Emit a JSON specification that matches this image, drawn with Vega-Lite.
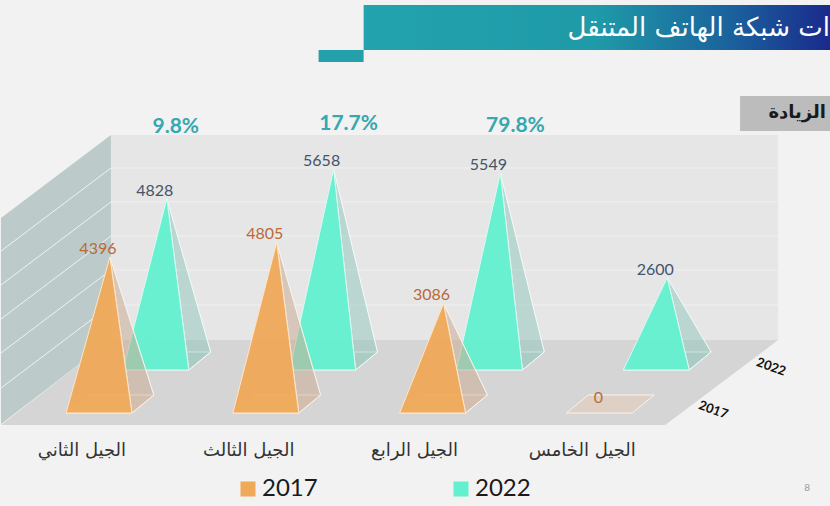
{
"$schema":"https://vega.github.io/schema/vega-lite/v6.json",
"width":830,"height":506,"padding":0,"autosize":{"type":"fit","contains":"padding"},
"background":"#f2f2f2",
"config":{"view":{"stroke":null},"text":{"font":"Lato"}},
"datasets":{
"walls":[
{"w":"back","o":1,"x":0.006,"y":7831},{"w":"back","o":2,"x":4.006,"y":7831},{"w":"back","o":3,"x":4.006,"y":2056},{"w":"back","o":4,"x":0.006,"y":2056},
{"w":"left","o":1,"x":-0.653,"y":5493},{"w":"left","o":2,"x":0.006,"y":7831},{"w":"left","o":3,"x":0.006,"y":2056},{"w":"left","o":4,"x":-0.653,"y":-310},
{"w":"floor","o":1,"x":0.006,"y":2056},{"w":"floor","o":2,"x":4.006,"y":2056},{"w":"floor","o":3,"x":3.329,"y":-338},{"w":"floor","o":4,"x":-0.653,"y":-338}
],
"grid":[
{"x":0.006,"y":6901,"x2":4.006,"y2":6901},{"x":0.006,"y":5944,"x2":4.006,"y2":5944},{"x":0.006,"y":4986,"x2":4.006,"y2":4986},{"x":0.006,"y":4028,"x2":4.006,"y2":4028},{"x":0.006,"y":3042,"x2":4.006,"y2":3042},
{"x":-0.653,"y":4563,"x2":0.006,"y2":6901},{"x":-0.653,"y":3606,"x2":0.006,"y2":5944},{"x":-0.653,"y":2648,"x2":0.006,"y2":4986},{"x":-0.653,"y":1690,"x2":0.006,"y2":4028},{"x":-0.653,"y":704,"x2":0.006,"y2":3042}
],
"py":[
{"yr":"2022","p":1,"f":"base","o":1,"x":0.078,"y":0},{"yr":"2022","p":1,"f":"base","o":2,"x":0.473,"y":0},{"yr":"2022","p":1,"f":"base","o":3,"x":0.604,"y":507},{"yr":"2022","p":1,"f":"base","o":4,"x":0.209,"y":507},
{"yr":"2022","p":1,"f":"back","o":1,"x":0.209,"y":507},{"yr":"2022","p":1,"f":"back","o":2,"x":0.604,"y":507},{"yr":"2022","p":1,"f":"back","o":3,"x":0.341,"y":4828},
{"yr":"2022","p":1,"f":"side","o":1,"x":0.473,"y":0},{"yr":"2022","p":1,"f":"side","o":2,"x":0.604,"y":507},{"yr":"2022","p":1,"f":"side","o":3,"x":0.341,"y":4828},
{"yr":"2022","p":1,"f":"front","o":1,"x":0.078,"y":0},{"yr":"2022","p":1,"f":"front","o":2,"x":0.473,"y":0},{"yr":"2022","p":1,"f":"front","o":3,"x":0.341,"y":4828},
{"yr":"2022","p":2,"f":"base","o":1,"x":1.078,"y":0},{"yr":"2022","p":2,"f":"base","o":2,"x":1.473,"y":0},{"yr":"2022","p":2,"f":"base","o":3,"x":1.604,"y":507},{"yr":"2022","p":2,"f":"base","o":4,"x":1.209,"y":507},
{"yr":"2022","p":2,"f":"back","o":1,"x":1.209,"y":507},{"yr":"2022","p":2,"f":"back","o":2,"x":1.604,"y":507},{"yr":"2022","p":2,"f":"back","o":3,"x":1.341,"y":5658},
{"yr":"2022","p":2,"f":"side","o":1,"x":1.473,"y":0},{"yr":"2022","p":2,"f":"side","o":2,"x":1.604,"y":507},{"yr":"2022","p":2,"f":"side","o":3,"x":1.341,"y":5658},
{"yr":"2022","p":2,"f":"front","o":1,"x":1.078,"y":0},{"yr":"2022","p":2,"f":"front","o":2,"x":1.473,"y":0},{"yr":"2022","p":2,"f":"front","o":3,"x":1.341,"y":5658},
{"yr":"2022","p":3,"f":"base","o":1,"x":2.078,"y":0},{"yr":"2022","p":3,"f":"base","o":2,"x":2.473,"y":0},{"yr":"2022","p":3,"f":"base","o":3,"x":2.604,"y":507},{"yr":"2022","p":3,"f":"base","o":4,"x":2.209,"y":507},
{"yr":"2022","p":3,"f":"back","o":1,"x":2.209,"y":507},{"yr":"2022","p":3,"f":"back","o":2,"x":2.604,"y":507},{"yr":"2022","p":3,"f":"back","o":3,"x":2.341,"y":5549},
{"yr":"2022","p":3,"f":"side","o":1,"x":2.473,"y":0},{"yr":"2022","p":3,"f":"side","o":2,"x":2.604,"y":507},{"yr":"2022","p":3,"f":"side","o":3,"x":2.341,"y":5549},
{"yr":"2022","p":3,"f":"front","o":1,"x":2.078,"y":0},{"yr":"2022","p":3,"f":"front","o":2,"x":2.473,"y":0},{"yr":"2022","p":3,"f":"front","o":3,"x":2.341,"y":5549},
{"yr":"2022","p":4,"f":"base","o":1,"x":3.078,"y":0},{"yr":"2022","p":4,"f":"base","o":2,"x":3.473,"y":0},{"yr":"2022","p":4,"f":"base","o":3,"x":3.604,"y":507},{"yr":"2022","p":4,"f":"base","o":4,"x":3.209,"y":507},
{"yr":"2022","p":4,"f":"back","o":1,"x":3.209,"y":507},{"yr":"2022","p":4,"f":"back","o":2,"x":3.604,"y":507},{"yr":"2022","p":4,"f":"back","o":3,"x":3.341,"y":2600},
{"yr":"2022","p":4,"f":"side","o":1,"x":3.473,"y":0},{"yr":"2022","p":4,"f":"side","o":2,"x":3.604,"y":507},{"yr":"2022","p":4,"f":"side","o":3,"x":3.341,"y":2600},
{"yr":"2022","p":4,"f":"front","o":1,"x":3.078,"y":0},{"yr":"2022","p":4,"f":"front","o":2,"x":3.473,"y":0},{"yr":"2022","p":4,"f":"front","o":3,"x":3.341,"y":2600},
{"yr":"2017","p":1,"f":"base","o":1,"x":-0.263,"y":0},{"yr":"2017","p":1,"f":"base","o":2,"x":0.132,"y":0},{"yr":"2017","p":1,"f":"base","o":3,"x":0.263,"y":507},{"yr":"2017","p":1,"f":"base","o":4,"x":-0.132,"y":507},
{"yr":"2017","p":1,"f":"back","o":1,"x":-0.132,"y":507},{"yr":"2017","p":1,"f":"back","o":2,"x":0.263,"y":507},{"yr":"2017","p":1,"f":"back","o":3,"x":0,"y":4396},
{"yr":"2017","p":1,"f":"side","o":1,"x":0.132,"y":0},{"yr":"2017","p":1,"f":"side","o":2,"x":0.263,"y":507},{"yr":"2017","p":1,"f":"side","o":3,"x":0,"y":4396},
{"yr":"2017","p":1,"f":"front","o":1,"x":-0.263,"y":0},{"yr":"2017","p":1,"f":"front","o":2,"x":0.132,"y":0},{"yr":"2017","p":1,"f":"front","o":3,"x":0,"y":4396},
{"yr":"2017","p":2,"f":"base","o":1,"x":0.737,"y":0},{"yr":"2017","p":2,"f":"base","o":2,"x":1.132,"y":0},{"yr":"2017","p":2,"f":"base","o":3,"x":1.263,"y":507},{"yr":"2017","p":2,"f":"base","o":4,"x":0.868,"y":507},
{"yr":"2017","p":2,"f":"back","o":1,"x":0.868,"y":507},{"yr":"2017","p":2,"f":"back","o":2,"x":1.263,"y":507},{"yr":"2017","p":2,"f":"back","o":3,"x":1,"y":4805},
{"yr":"2017","p":2,"f":"side","o":1,"x":1.132,"y":0},{"yr":"2017","p":2,"f":"side","o":2,"x":1.263,"y":507},{"yr":"2017","p":2,"f":"side","o":3,"x":1,"y":4805},
{"yr":"2017","p":2,"f":"front","o":1,"x":0.737,"y":0},{"yr":"2017","p":2,"f":"front","o":2,"x":1.132,"y":0},{"yr":"2017","p":2,"f":"front","o":3,"x":1,"y":4805},
{"yr":"2017","p":3,"f":"base","o":1,"x":1.737,"y":0},{"yr":"2017","p":3,"f":"base","o":2,"x":2.132,"y":0},{"yr":"2017","p":3,"f":"base","o":3,"x":2.263,"y":507},{"yr":"2017","p":3,"f":"base","o":4,"x":1.868,"y":507},
{"yr":"2017","p":3,"f":"back","o":1,"x":1.868,"y":507},{"yr":"2017","p":3,"f":"back","o":2,"x":2.263,"y":507},{"yr":"2017","p":3,"f":"back","o":3,"x":2,"y":3086},
{"yr":"2017","p":3,"f":"side","o":1,"x":2.132,"y":0},{"yr":"2017","p":3,"f":"side","o":2,"x":2.263,"y":507},{"yr":"2017","p":3,"f":"side","o":3,"x":2,"y":3086},
{"yr":"2017","p":3,"f":"front","o":1,"x":1.737,"y":0},{"yr":"2017","p":3,"f":"front","o":2,"x":2.132,"y":0},{"yr":"2017","p":3,"f":"front","o":3,"x":2,"y":3086},
{"yr":"2017","p":4,"f":"base","o":1,"x":2.737,"y":0},{"yr":"2017","p":4,"f":"base","o":2,"x":3.132,"y":0},{"yr":"2017","p":4,"f":"base","o":3,"x":3.263,"y":507},{"yr":"2017","p":4,"f":"base","o":4,"x":2.868,"y":507}
],
"values":[
{"gen":"الجيل الثاني","yr":"2017","value":4396,"x":0,"y":4396},
{"gen":"الجيل الثالث","yr":"2017","value":4805,"x":1,"y":4805},
{"gen":"الجيل الرابع","yr":"2017","value":3086,"x":2,"y":3086},
{"gen":"الجيل الخامس","yr":"2017","value":0,"x":3,"y":0},
{"gen":"الجيل الثاني","yr":"2022","value":4828,"x":0.341,"y":4828},
{"gen":"الجيل الثالث","yr":"2022","value":5658,"x":1.341,"y":5658},
{"gen":"الجيل الرابع","yr":"2022","value":5549,"x":2.341,"y":5549},
{"gen":"الجيل الخامس","yr":"2022","value":2600,"x":3.341,"y":2600}
],
"cats":[
{"t":"الجيل الثاني","x":-0.168,"y":-1070},{"t":"الجيل الثالث","x":0.832,"y":-1070},{"t":"الجيل الرابع","x":1.826,"y":-1070},{"t":"الجيل الخامس","x":2.832,"y":-1070}
],
"pct":[{"t":"9.8%","x":0.395,"y":8057},{"t":"17.7%","x":1.431,"y":8141},{"t":"79.8%","x":2.431,"y":8085}],
"depth":[{"t":"2022","x":3.964,"y":1296},{"t":"2017","x":3.617,"y":85}]
},
"encoding":{
"x":{"field":"x","type":"quantitative","axis":null,"scale":{"domain":[-0.653,4.317],"nice":false,"zero":false}},
"y":{"field":"y","type":"quantitative","axis":null,"scale":{"domain":[-2620,11634],"nice":false,"zero":false}}
},
"layer":[
{"data":{"name":"walls"},"transform":[{"filter":"datum.w==='back'"}],"mark":{"type":"line","interpolate":"linear-closed","fill":"#e6e6e6","stroke":"#e6e6e6","strokeWidth":0},"encoding":{"order":{"field":"o"}}},
{"data":{"name":"walls"},"transform":[{"filter":"datum.w==='left'"}],"mark":{"type":"line","interpolate":"linear-closed","fill":"#bccbc9","stroke":"#bccbc9","strokeWidth":0},"encoding":{"order":{"field":"o"}}},
{"data":{"name":"walls"},"transform":[{"filter":"datum.w==='floor'"}],"mark":{"type":"line","interpolate":"linear-closed","fill":"#d5d5d5","stroke":"#d5d5d5","strokeWidth":0},"encoding":{"order":{"field":"o"}}},
{"data":{"name":"grid"},"mark":{"type":"rule","stroke":"#f1f1f1","strokeWidth":1},"encoding":{"x2":{"field":"x2"},"y2":{"field":"y2"}}},

{"data":{"name":"py"},"transform":[{"filter":"datum.yr==='2022' && datum.f==='base'"}],"mark":{"type":"line","interpolate":"linear-closed","yOffset":-43,"fill":"#9fd8cc","fillOpacity":0.35,"stroke":"#eef8f5","strokeWidth":1},"encoding":{"order":{"field":"o"},"detail":{"field":"p"}}},
{"data":{"name":"py"},"transform":[{"filter":"datum.yr==='2022' && datum.f==='back'"}],"mark":{"type":"line","interpolate":"linear-closed","yOffset":-43,"fill":"#9fd8cc","fillOpacity":0.1,"stroke":"#eef8f5","strokeOpacity":0.6,"strokeWidth":1},"encoding":{"order":{"field":"o"},"detail":{"field":"p"}}},
{"data":{"name":"py"},"transform":[{"filter":"datum.yr==='2022' && datum.f==='side'"}],"mark":{"type":"line","interpolate":"linear-closed","yOffset":-43,"fill":"#86bdb3","fillOpacity":0.4,"stroke":"#f0faf7","strokeWidth":1},"encoding":{"order":{"field":"o"},"detail":{"field":"p"}}},
{"data":{"name":"py"},"transform":[{"filter":"datum.yr==='2022' && datum.f==='front'"}],"mark":{"type":"line","interpolate":"linear-closed","yOffset":-43,"fillOpacity":0.95,"stroke":"#d8fbf1","strokeWidth":1},"encoding":{"order":{"field":"o"},"detail":{"field":"p"},"fill":{"field":"yr","type":"nominal","scale":{"domain":["2017","2022"],"range":["#efa958","#62f0cf"]},"legend":{"orient":"none","legendX":235,"legendY":477,"direction":"horizontal","columns":2,"title":null,"symbolType":"square","symbolSize":225,"symbolStrokeWidth":0,"labelFontSize":24,"labelFont":"Lato","labelColor":"#1a1a1a","labelOffset":2,"columnPadding":131}}}},

{"data":{"name":"py"},"transform":[{"filter":"datum.yr==='2017' && datum.f==='base'"}],"mark":{"type":"line","interpolate":"linear-closed","fill":"#f2c8a8","fillOpacity":0.35,"stroke":"#fbf3ea","strokeWidth":1},"encoding":{"order":{"field":"o"},"detail":{"field":"p"}}},
{"data":{"name":"py"},"transform":[{"filter":"datum.yr==='2017' && datum.f==='back'"}],"mark":{"type":"line","interpolate":"linear-closed","fill":"#e0c0a0","fillOpacity":0.1,"stroke":"#fbf3ea","strokeOpacity":0.6,"strokeWidth":1},"encoding":{"order":{"field":"o"},"detail":{"field":"p"}}},
{"data":{"name":"py"},"transform":[{"filter":"datum.yr==='2017' && datum.f==='side'"}],"mark":{"type":"line","interpolate":"linear-closed","fill":"#c8ab95","fillOpacity":0.5,"stroke":"#fbf3ea","strokeWidth":1},"encoding":{"order":{"field":"o"},"detail":{"field":"p"}}},
{"data":{"name":"py"},"transform":[{"filter":"datum.yr==='2017' && datum.f==='front'"}],"mark":{"type":"line","interpolate":"linear-closed","fillOpacity":0.95,"stroke":"#fde6c8","strokeWidth":1},"encoding":{"order":{"field":"o"},"detail":{"field":"p"},"fill":{"field":"yr","type":"nominal"}}},

{"data":{"name":"values"},"transform":[{"filter":"datum.yr==='2017' && datum.value>0"}],"mark":{"type":"text","dx":-12,"dy":-8,"fontSize":16,"font":"Lato","color":"#b9693a"},"encoding":{"text":{"field":"value","type":"quantitative","format":"d"}}},
{"data":{"name":"values"},"transform":[{"filter":"datum.yr==='2017' && datum.value===0"}],"mark":{"type":"text","dx":-12,"dy":-15,"fontSize":16,"font":"Lato","color":"#b9693a"},"encoding":{"text":{"field":"value","type":"quantitative","format":"d"}}},
{"data":{"name":"values"},"transform":[{"filter":"datum.yr==='2022'"}],"mark":{"type":"text","dx":-12,"dy":-51,"fontSize":16,"font":"Lato","color":"#44546a"},"encoding":{"text":{"field":"value","type":"quantitative","format":"d"}}},

{"data":{"name":"pct"},"mark":{"type":"text","fontSize":21,"font":"Lato","fontWeight":"bold","color":"#35a8b0"},"encoding":{"text":{"field":"t"}}},
{"data":{"name":"cats"},"mark":{"type":"text","fontSize":18,"font":"DejaVu Sans","color":"#333333"},"encoding":{"text":{"field":"t"}}},
{"data":{"name":"depth"},"mark":{"type":"text","fontSize":13,"font":"Lato","fontWeight":"bold","angle":20,"color":"#111111"},"encoding":{"text":{"field":"t"}}},

{"data":{"values":[{"x":1.521,"x2":4.317,"y":11493,"y2":10225}]},"mark":{"type":"rect","color":{"gradient":"linear","x1":0,"x2":1,"y1":0,"y2":0,"stops":[{"offset":0,"color":"#22a3ad"},{"offset":0.5,"color":"#1f9aa8"},{"offset":0.8,"color":"#1a5f9c"},{"offset":1,"color":"#1a2a8c"}]}},"encoding":{"x2":{"field":"x2"},"y2":{"field":"y2"}}},
{"data":{"values":[{"x":1.251,"x2":1.521,"y":10225,"y2":9887}]},"mark":{"type":"rect","color":"#23a0a9"},"encoding":{"x2":{"field":"x2"},"y2":{"field":"y2"}}},
{"data":{"values":[{"x":3.778,"x2":4.317,"y":8930,"y2":7944}]},"mark":{"type":"rect","color":"#bcbcbc"},"encoding":{"x2":{"field":"x2"},"y2":{"field":"y2"}}},
{"data":{"values":[{"t":"ات شبكة الهاتف المتنقل","x":3.53,"y":10845}]},"mark":{"type":"text","fontSize":26,"font":"DejaVu Sans","color":"#ffffff"},"encoding":{"text":{"field":"t"}}},
{"data":{"values":[{"t":"الزيادة","x":4.12,"y":8451}]},"mark":{"type":"text","fontSize":18,"font":"DejaVu Sans","fontWeight":"bold","color":"#1a1a1a"},"encoding":{"text":{"field":"t"}}},
{"data":{"values":[{"t":"8","x":4.18,"y":-2113}]},"mark":{"type":"text","fontSize":10,"font":"Lato","color":"#9a9a9a"},"encoding":{"text":{"field":"t"}}}
]
}
